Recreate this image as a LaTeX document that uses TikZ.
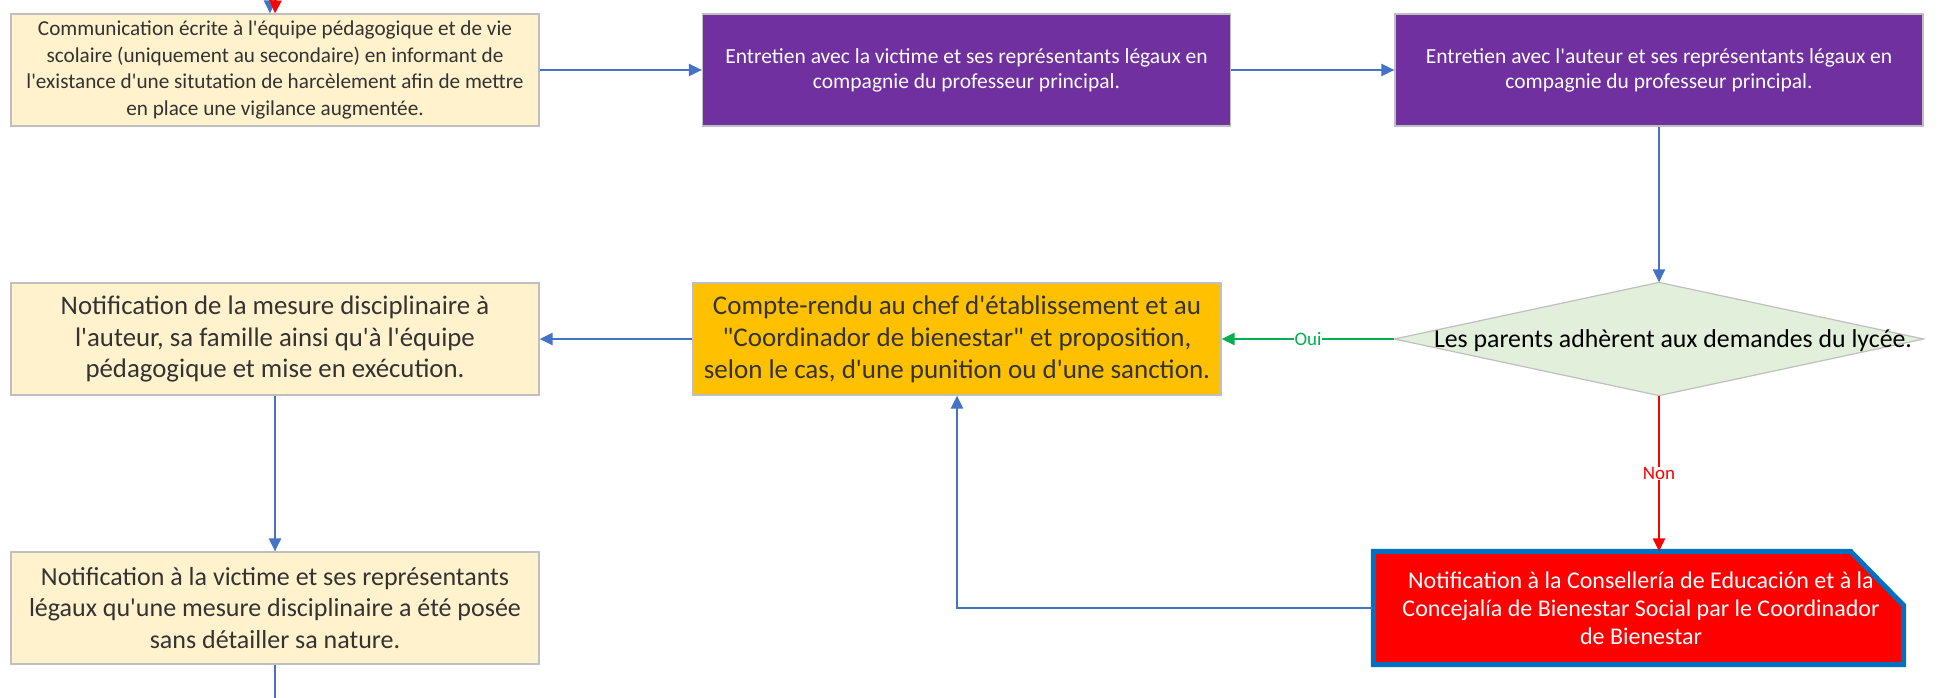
\documentclass[tikz,border=0pt]{standalone}
\usepackage{fontspec}
\setmainfont{Carlito}[Ligatures=TeXOff]
\usetikzlibrary{arrows.meta,calc}
\definecolor{cream}{HTML}{FFF2CC}
\definecolor{purp}{HTML}{7030A0}
\definecolor{orng}{HTML}{FFC000}
\definecolor{lgreen}{HTML}{E2EFDA}
\definecolor{bord}{HTML}{BFBFBF}
\definecolor{conn}{HTML}{4472C4}
\definecolor{okgreen}{HTML}{00B050}
\definecolor{rborder}{HTML}{0070C0}
\definecolor{txt}{HTML}{333333}
\begin{document}
\begin{tikzpicture}[x=1pt,y=-1pt,
  box/.style={rectangle, minimum width=528pt, minimum height=112pt, inner sep=0pt, align=center, line width=1.2pt, draw=bord},
  creambox/.style={box, fill=cream, text=txt},
  purpbox/.style={box, fill=purp, text=white, font=\fontsize{21.5}{25}\selectfont},
  conn/.style={draw=conn, line width=2.2pt, -{Triangle[length=13pt,width=12pt]}},
  conng/.style={draw=okgreen, line width=2.2pt, -{Triangle[length=13pt,width=12pt]}},
  connr/.style={draw=red, line width=2.2pt, -{Triangle[length=13pt,width=12pt]}},
  plainline/.style={draw=conn, line width=2.2pt},
  lab/.style={fill=white, inner sep=0.5pt, font=\fontsize{19}{21}\selectfont}
]
\useasboundingbox (0,0) rectangle (1953,698);
\clip (0,0) rectangle (1953,698);

\node[creambox, font=\fontsize{21.2}{26.5}\selectfont] (A) at (275,70)
  {Communication écrite à l'équipe pédagogique et de vie\\scolaire (uniquement au secondaire) en informant de\\l'existance d'une situtation de harcèlement afin de mettre\\en place une vigilance augmentée.};
\node[purpbox] (B) at (966.5,70)
  {Entretien avec la victime et ses représentants légaux en\\compagnie du professeur principal.};
\node[purpbox] (C) at (1659,70)
  {Entretien avec l'auteur et ses représentants légaux en\\compagnie du professeur principal.};

\node[box, draw=none] (D) at (1659,339) {};
\draw[fill=lgreen, draw=bord, line width=1.2pt] (D.north) -- (D.east) -- (D.south) -- (D.west) -- cycle;
\node[font=\fontsize{25.8}{30}\selectfont, text=black] (Dt) at (1673,341) {Les parents adhèrent aux demandes du lycée.};

\node[box, fill=orng, text=txt, font=\fontsize{27}{32}\selectfont] (E) at (957,339)
  {Compte-rendu au chef d'établissement et au\\"Coordinador de bienestar" et proposition,\\selon le cas, d'une punition ou d'une sanction.};
\node[creambox, font=\fontsize{26.8}{31.8}\selectfont] (F) at (275,339)
  {Notification de la mesure disciplinaire à\\l'auteur, sa famille ainsi qu'à l'équipe\\pédagogique et mise en exécution.};
\node[creambox, font=\fontsize{26}{31.8}\selectfont] (G) at (275,608)
  {Notification à la victime et ses représentants\\légaux qu'une mesure disciplinaire a été posée\\sans détailler sa nature.};

\node[box, draw=none, minimum width=529pt] (H) at (1638.5,608) {};
\draw[fill=red, draw=rborder, line width=5pt] (H.north west) -- ($(H.north east)+(-53,0)$) -- ($(H.north east)+(0,54)$) -- (H.south east) -- (H.south west) -- cycle;
\node[text=white, align=center, font=\fontsize{24}{28}\selectfont] (Ht) at (1641,608)
  {Notification à la Consellería de Educación et à la\\Concejalía de Bienestar Social par le Coordinador\\de Bienestar};

\coordinate (topb) at (270,-10);
\coordinate (topr) at (276,-10);
\coordinate (bot) at (275,710);

\draw[conn] (topb) -- (topb |- A.north);
\draw[connr] (topr) -- (A.north);
\draw[conn] (A) -- (B);
\draw[conn] (B) -- (C);
\draw[conn] (C) -- (D.north);
\draw[conng] (D.west) -- node[lab, text=okgreen] {Oui} (E);
\draw[connr] (D.south) -- node[lab, text=red] {Non} (D.south |- H.north);
\draw[conn] (H.west) -| (E.south);
\draw[conn] (E) -- (F);
\draw[conn] (F) -- (G);
\draw[plainline] (G.south) -- (bot);
\end{tikzpicture}
\end{document}
